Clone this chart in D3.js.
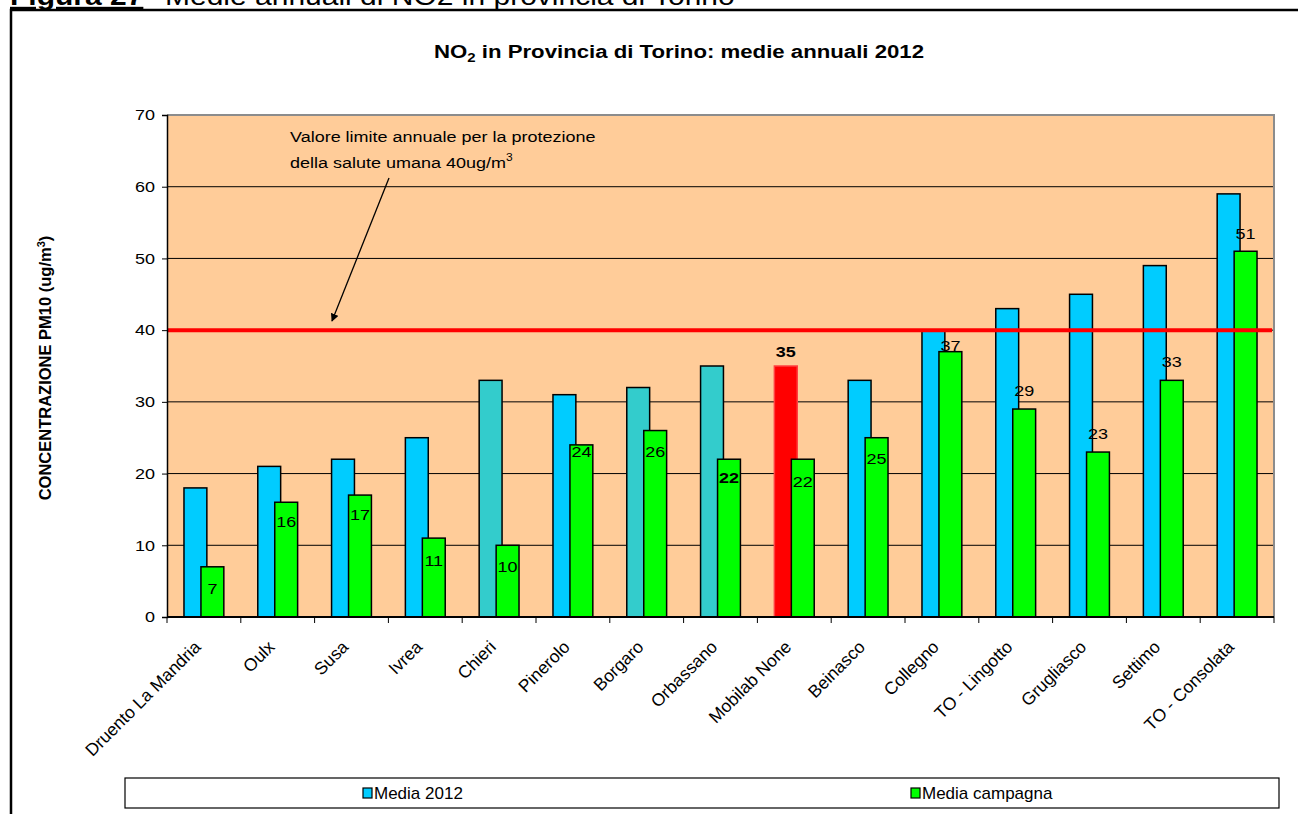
<!DOCTYPE html>
<html>
<head>
<meta charset="utf-8">
<script src="https://cdn.jsdelivr.net/npm/d3@7"></script>
<style>
  body { margin: 0; background: #fff; }
  svg { display: block; font-family: "Liberation Sans", Arial, sans-serif; }
</style>
</head>
<body>
<div id="chart"></div>
<script>
// --- dati ---
const stazioni = ["Druento La Mandria", "Oulx", "Susa", "Ivrea", "Chieri", "Pinerolo", "Borgaro",
  "Orbassano", "Mobilab None", "Beinasco", "Collegno", "TO - Lingotto", "Grugliasco", "Settimo", "TO - Consolata"];
const media2012 = [18, 21, 22, 25, 33, 31, 32, 35, 35, 33, 40, 43, 45, 49, 59];
const mediaCampagna = [7, 16, 17, 11, 10, 24, 26, 22, 22, 25, 37, 29, 23, 33, 51];
// dove stanno le etichette (in ug/m3)
const etichettaCampagna = [4.0, 13.3, 14.2, 7.9, 7.0, 23.0, 23.0, 19.4, 18.9, 22.0, 37.8, 31.6, 25.5, 35.6, 53.5];
const stazioniTeal = ["Chieri", "Borgaro", "Orbassano"];
const stazioneMobilab = "Mobilab None";
const limite = 40;
const yTicks = [0, 10, 20, 30, 40, 50, 60, 70];
const serie = ["Media 2012", "Media campagna"];

const W = 1299, H = 814;
const plot = {left: 167, right: 1274, top: 115, bottom: 617};
const SX = 1.2; // il testo dell'originale è allargato in orizzontale

const svg = d3.select("#chart").append("svg").attr("width", W).attr("height", H);

// testo allargato: posizionato con translate + scale
function testo(parent, px, py, size) {
  return parent.append("text")
    .attr("transform", `translate(${px},${py}) scale(${SX},1)`)
    .style("font-size", size + "px");
}

// defs freccia
svg.append("defs").append("marker")
  .attr("id", "arrow").attr("viewBox", "0 0 10 10").attr("refX", 9).attr("refY", 5)
  .attr("markerWidth", 8).attr("markerHeight", 8).attr("orient", "auto-start-reverse")
  .attr("markerUnits", "userSpaceOnUse")
  .append("path").attr("d", "M0,0 L10,5 L0,10 z").attr("fill", "#000");

// intestazione tagliata in alto
testo(svg, 10, 5, 25).attr("font-weight", "bold").attr("text-decoration", "underline").text("Figura 27");
testo(svg, 165, 5, 25).text("Medie annuali di NO2 in provincia di Torino");

// cornice esterna
svg.append("path").attr("d", `M11,${H + 5} V10 H1298`).attr("fill", "none")
  .attr("stroke", "#000").attr("stroke-width", 2.5);

// titolo
const title = testo(svg, 679, 58, 18.5).attr("text-anchor", "middle").attr("font-weight", "bold");
title.append("tspan").text("NO");
title.append("tspan").attr("dy", 4).style("font-size", "12.5px").text("2");
title.append("tspan").attr("dy", -4).text(" in Provincia di Torino: medie annuali 2012");

const x = d3.scaleBand().domain(stazioni).range([plot.left, plot.right]).padding(0);
const y = d3.scaleLinear().domain([0, 70]).range([plot.bottom, plot.top]);
const bw = x.bandwidth();

// sfondo area
svg.append("rect").attr("x", plot.left).attr("y", plot.top)
  .attr("width", plot.right - plot.left).attr("height", plot.bottom - plot.top)
  .attr("fill", "#FFCC99");

// griglia
svg.append("g").selectAll("line").data(yTicks.filter(d => d > 0 && d < 70)).join("line")
  .attr("x1", plot.left).attr("x2", plot.right)
  .attr("y1", d => y(d)).attr("y2", d => y(d))
  .attr("stroke", "#000").attr("stroke-width", 1);

// bordo grigio superiore e destro
svg.append("path").attr("d", `M${plot.left},${plot.top} H${plot.right} V${plot.bottom}`)
  .attr("fill", "none").attr("stroke", "#8c8c8c").attr("stroke-width", 2);

// annotazione
testo(svg, 290, 142, 15).text("Valore limite annuale per la protezione");
const ann2 = testo(svg, 290, 168, 15);
ann2.append("tspan").text("della salute umana 40ug/m");
ann2.append("tspan").attr("dy", -7).style("font-size", "10px").text("3");
svg.append("line").attr("x1", 389).attr("y1", 178).attr("x2", 332).attr("y2", 321)
  .attr("stroke", "#000").attr("stroke-width", 1.3).attr("marker-end", "url(#arrow)");

// barre Media 2012
function coloreMedia(s) {
  if (s === stazioneMobilab) return "#FF0000";
  if (stazioniTeal.includes(s)) return "#33CCCC";
  return "#00CCFF";
}
svg.append("g").selectAll("rect").data(stazioni).join("rect")
  .attr("x", d => x(d) + bw * 0.23).attr("width", bw * 0.31)
  .attr("y", (d, i) => y(media2012[i])).attr("height", (d, i) => y(0) - y(media2012[i]))
  .attr("fill", d => coloreMedia(d))
  .attr("stroke", d => d === stazioneMobilab ? "#ff4040" : "#000").attr("stroke-width", 1.5);

// barre Media campagna
svg.append("g").selectAll("rect").data(stazioni).join("rect")
  .attr("x", d => x(d) + bw * 0.46).attr("width", bw * 0.31)
  .attr("y", (d, i) => y(mediaCampagna[i])).attr("height", (d, i) => y(0) - y(mediaCampagna[i]))
  .attr("fill", "#00FF00").attr("stroke", "#000").attr("stroke-width", 1.5);

// linea limite
svg.append("line").attr("x1", plot.left).attr("x2", plot.right - 2)
  .attr("y1", y(limite)).attr("y2", y(limite))
  .attr("stroke", "#FF0000").attr("stroke-width", 4);

// etichette campagna
const gLab = svg.append("g");
stazioni.forEach((s, i) => {
  testo(gLab, x(s) + bw * 0.615, y(etichettaCampagna[i]), 15)
    .attr("dy", "0.35em").attr("text-anchor", "middle")
    .attr("font-weight", s === "Orbassano" ? "bold" : "normal")
    .text(mediaCampagna[i]);
});

// etichetta Mobilab
const iM = stazioni.indexOf(stazioneMobilab);
testo(svg, x(stazioneMobilab) + bw * 0.385, y(media2012[iM]) - 9, 15)
  .attr("text-anchor", "middle").attr("font-weight", "bold").text(media2012[iM]);

// asse y
const yAxis = svg.append("g").attr("transform", `translate(${plot.left},0)`)
  .call(d3.axisLeft(y).tickValues(yTicks).tickSize(5).tickPadding(8));
yAxis.select(".domain").attr("stroke", "#000").attr("stroke-width", 1.5);
yAxis.selectAll("line").attr("stroke", "#000");
yAxis.selectAll(".tick text")
  .attr("x", null)
  .attr("transform", `translate(-12,0) scale(${SX},1)`)
  .style("font-size", "15px").attr("fill", "#000")
  .style("font-family", "'Liberation Sans', Arial, sans-serif");

// asse x
svg.append("line").attr("x1", plot.left).attr("x2", plot.right)
  .attr("y1", plot.bottom).attr("y2", plot.bottom).attr("stroke", "#000").attr("stroke-width", 2);
svg.append("g").selectAll("line").data(stazioni.concat([null])).join("line")
  .attr("x1", (d, i) => plot.left + i * bw).attr("x2", (d, i) => plot.left + i * bw)
  .attr("y1", plot.bottom).attr("y2", plot.bottom + 6).attr("stroke", "#000");
svg.append("g").selectAll("text").data(stazioni).join("text")
  .attr("transform", d => `translate(${x(d) + bw / 2 - 2},${plot.bottom + 31}) rotate(-45)`)
  .attr("text-anchor", "end").style("font-size", "17.5px").text(d => d);

// titolo asse y
const yt = svg.append("text").attr("transform", "translate(51,368) rotate(-90)")
  .attr("text-anchor", "middle").attr("font-weight", "bold").style("font-size", "16.5px");
yt.append("tspan").text("CONCENTRAZIONE PM10 (ug/m");
yt.append("tspan").attr("dy", -6).style("font-size", "11px").text("3");
yt.append("tspan").attr("dy", 6).text(")");

// legenda
svg.append("rect").attr("x", 125).attr("y", 778).attr("width", 1154).attr("height", 30)
  .attr("fill", "#fff").attr("stroke", "#000").attr("stroke-width", 1.2);
const legX = [363, 911];
const legCol = ["#00CCFF", "#00FF00"];
const leg = svg.append("g").selectAll("g").data(serie).join("g")
  .attr("transform", (d, i) => `translate(${legX[i]},793)`);
leg.append("rect").attr("x", 0).attr("y", -5).attr("width", 9).attr("height", 10)
  .attr("fill", (d, i) => legCol[i]).attr("stroke", "#000").attr("stroke-width", 1.2);
leg.append("text").attr("x", 11).attr("dy", "0.36em")
  .style("font-family", "'Liberation Sans Narrow', 'Arial Narrow', sans-serif")
  .style("font-size", "17px").text(d => d);
</script>
</body>
</html>
